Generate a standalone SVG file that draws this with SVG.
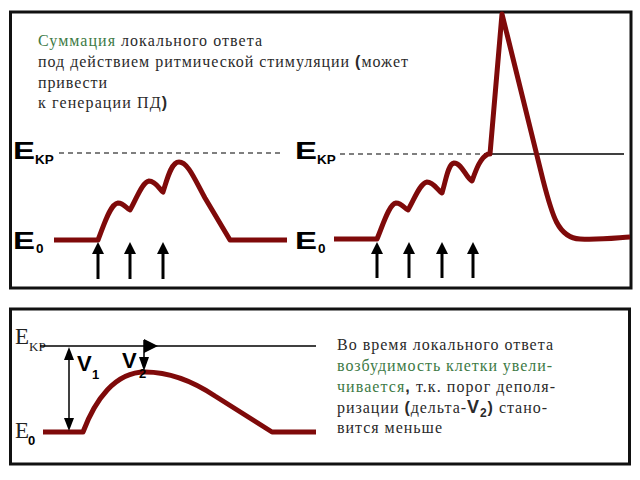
<svg xmlns="http://www.w3.org/2000/svg" width="640" height="480" viewBox="0 0 640 480">
<defs>
<style>
.box{fill:none;stroke:#111;stroke-width:3}
.curve{fill:none;stroke:#7f0a0a;stroke-width:5;stroke-linejoin:round;stroke-linecap:butt}
.dash{fill:none;stroke:#555;stroke-width:1.5;stroke-dasharray:5 4}
.thin{fill:none;stroke:#000;stroke-width:1.5}
.stim{fill:none;stroke:#000;stroke-width:3}
.head{fill:#000}
.ebig{font-family:"Liberation Sans",Arial,sans-serif;font-weight:bold;font-size:23px;fill:#000}
.esub{font-family:"Liberation Sans",Arial,sans-serif;font-weight:bold;font-size:13.5px;fill:#000}
.txt{font-family:"Liberation Serif","Times New Roman",serif;font-size:16px;fill:#2a2a2a}
.grn{fill:#3d7a45}
.bp{font-family:"Liberation Sans",Arial,sans-serif;font-weight:bold}
.serifE{font-family:"Liberation Serif","Times New Roman",serif;font-size:23px;fill:#222}
.serifSub{font-family:"Liberation Serif","Times New Roman",serif;font-size:13px;fill:#222}
.vb{font-family:"Liberation Sans",Arial,sans-serif;font-weight:bold;font-size:22px;fill:#000}
.vs{font-family:"Liberation Sans",Arial,sans-serif;font-weight:bold;font-size:13px;fill:#000}
</style>
</defs>
<rect width="640" height="480" fill="#fff"/>

<g id="top-panel">
<rect class="box" x="10.5" y="12" width="620.5" height="276"/>
</g>

<g id="top-text">
<text class="txt" x="38" y="46" textLength="224" lengthAdjust="spacing"><tspan class="grn">Суммация</tspan> локального ответа</text>
<text class="txt" x="38" y="67" textLength="370" lengthAdjust="spacing">под действием ритмической стимуляции <tspan class="bp">(</tspan>может</text>
<text class="txt" x="38" y="88" textLength="69" lengthAdjust="spacing">привести</text>
<text class="txt" x="38" y="108" textLength="129" lengthAdjust="spacing">к генерации ПД<tspan class="bp">)</tspan></text>
</g>

<g id="left-graph-labels">
<text class="ebig" x="13" y="159" textLength="22" lengthAdjust="spacingAndGlyphs">E</text>
<text class="esub" x="35" y="164">KP</text>
<text class="ebig" x="13" y="249" textLength="22" lengthAdjust="spacingAndGlyphs">E</text>
<text class="esub" x="36" y="253">0</text>
</g>

<g id="right-graph-labels">
<text class="ebig" x="295" y="159" textLength="22" lengthAdjust="spacingAndGlyphs">E</text>
<text class="esub" x="317" y="164">KP</text>
<text class="ebig" x="295" y="249" textLength="22" lengthAdjust="spacingAndGlyphs">E</text>
<text class="esub" x="318" y="253">0</text>
</g>

<g id="connectors">
<line class="dash" x1="59" y1="153" x2="282" y2="153"/>
<line class="dash" x1="340" y1="154" x2="484" y2="154"/>
<line class="thin" x1="484" y1="154" x2="624" y2="154"/>

<path class="curve" d="M54,240 H98 C104,225 110,204 118,203 C124,203 127,209 130,210 C136,200 142,182 149,181 C156,181 160,190 163,192 C167,180 171,162 179,162 C188,162 195,180 205,198 L230,240 H287"/>
<path class="curve" d="M334,239 H377 C383,225 389,204 396,203 C402,203 405,209 408,210 C414,200 420,183 427,182 C434,182 438,191 442,193 C446,180 448,164 454,163 C462,163 466,178 472,181 C476,170 480,158 488,154 H490 L502,14 L543,180 C552,215 558,238 580,239 C600,240 615,238 630,237"/>

<g id="stimuli-left">
<line class="stim" x1="98" y1="279" x2="98" y2="252"/><polygon class="head" points="92,254 104,254 98,242"/>
<line class="stim" x1="130" y1="279" x2="130" y2="252"/><polygon class="head" points="124,254 136,254 130,242"/>
<line class="stim" x1="163" y1="279" x2="163" y2="252"/><polygon class="head" points="157,254 169,254 163,242"/>
</g>
<g id="stimuli-right">
<line class="stim" x1="377" y1="278" x2="377" y2="252"/><polygon class="head" points="371,254 383,254 377,242"/>
<line class="stim" x1="409" y1="278" x2="409" y2="252"/><polygon class="head" points="403,254 415,254 409,242"/>
<line class="stim" x1="442" y1="278" x2="442" y2="252"/><polygon class="head" points="436,254 448,254 442,242"/>
<line class="stim" x1="473" y1="278" x2="473" y2="252"/><polygon class="head" points="467,254 479,254 473,242"/>
</g>
</g>

<g id="bottom-panel">
<rect class="box" x="10.5" y="309" width="619" height="155"/>
</g>

<g id="bottom-graph">
<text class="serifE" x="15" y="344">E</text>
<text class="serifSub" x="29" y="351">KP</text>
<text class="serifE" x="15" y="438">E</text>
<text class="vs" x="28" y="445" font-size="14">0</text>
<line class="thin" x1="40" y1="346" x2="316" y2="346"/>
<path class="curve" d="M43,432 H83 C95,400 115,372 145,372 C175,372 200,386 215,396 L272,432 H316"/>
<line class="thin" x1="69" y1="358" x2="69" y2="420"/>
<polygon class="head" points="64,360 74,360 69,347"/>
<polygon class="head" points="64,418 74,418 69,431"/>
<text class="vb" x="77" y="371">V</text>
<text class="vs" x="92" y="379">1</text>
<line class="thin" x1="144" y1="340" x2="144" y2="360"/>
<polygon class="head" points="144,339 158,346 144,353"/>
<polygon class="head" points="139,357 149,357 144,371"/>
<text class="vb" x="122" y="368">V</text>
<text class="vs" x="139" y="378">2</text>
</g>

<g id="bottom-text">
<text class="txt" x="337" y="350" textLength="216" lengthAdjust="spacing">Во время локального ответа</text>
<text class="txt grn" x="337" y="371" textLength="215" lengthAdjust="spacing">возбудимость клетки увели-</text>
<text class="txt" x="337" y="392" textLength="218" lengthAdjust="spacing"><tspan class="grn">чивается</tspan><tspan class="bp">,</tspan> т.к. порог деполя-</text>
<text class="txt" x="337" y="413" textLength="210" lengthAdjust="spacing">ризации <tspan class="bp">(</tspan>дельта-<tspan class="bp" font-size="18">V</tspan><tspan class="bp" font-size="12" dy="4">2</tspan><tspan class="bp" dy="-4">)</tspan> стано-</text>
<text class="txt" x="337" y="433" textLength="105" lengthAdjust="spacing">вится меньше</text>
</g>
</svg>
